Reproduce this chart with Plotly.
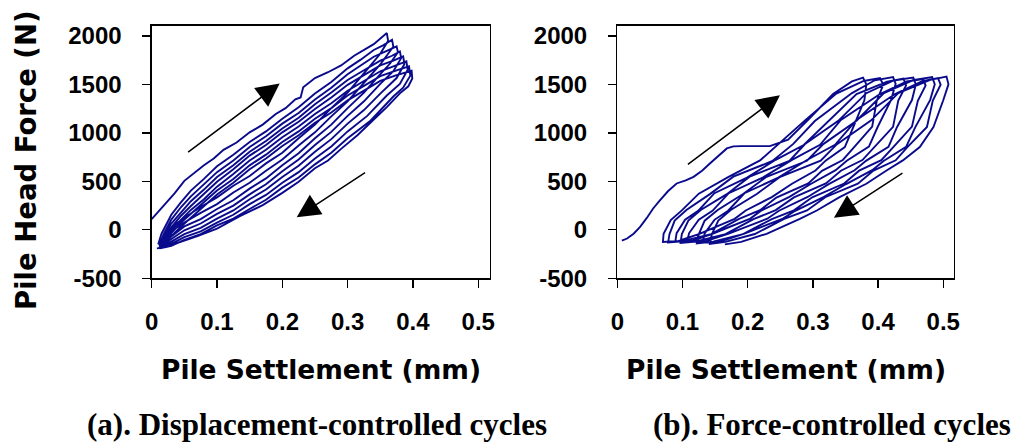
import plotly.graph_objects as go

# ---------------- data ----------------
# (a) Displacement-controlled cycles: loading (upper) and unloading (lower) branches
disp_loading = [
    [(0.000,110),(0.010,185),(0.020,255),(0.035,375),(0.050,505),(0.065,585),(0.080,665),(0.095,735),(0.110,825),(0.130,900),(0.150,1005),(0.170,1085),(0.190,1195),(0.205,1255),(0.220,1345),(0.228,1365),(0.232,1470),(0.250,1565),(0.270,1625),(0.290,1695),(0.310,1795),(0.340,1915),(0.355,1995),(0.360,2029)],
    [(0.010,-150),(0.015,-40),(0.030,155),(0.045,285),(0.060,405),(0.080,525),(0.100,655),(0.125,775),(0.150,905),(0.175,1015),(0.200,1145),(0.225,1265),(0.250,1405),(0.275,1525),(0.300,1665),(0.320,1755),(0.340,1855),(0.355,1905),(0.368,1960)],
    [(0.012,-165),(0.018,-50),(0.030,105),(0.045,235),(0.060,345),(0.080,465),(0.100,595),(0.125,715),(0.150,855),(0.175,965),(0.200,1095),(0.225,1205),(0.250,1345),(0.275,1465),(0.300,1605),(0.320,1695),(0.340,1785),(0.360,1845),(0.375,1892)],
    [(0.012,-175),(0.018,-70),(0.030,65),(0.045,185),(0.060,295),(0.080,415),(0.100,545),(0.125,665),(0.150,805),(0.175,915),(0.200,1045),(0.225,1155),(0.250,1295),(0.275,1415),(0.300,1545),(0.325,1645),(0.350,1745),(0.368,1795),(0.380,1840)],
    [(0.015,-180),(0.020,-80),(0.030,25),(0.045,145),(0.060,245),(0.080,365),(0.100,495),(0.125,625),(0.150,765),(0.175,875),(0.200,1005),(0.225,1115),(0.250,1245),(0.275,1365),(0.300,1495),(0.325,1595),(0.350,1695),(0.370,1745),(0.385,1789)],
    [(0.012,-185),(0.020,-100),(0.030,-5),(0.045,105),(0.060,205),(0.080,315),(0.100,445),(0.125,575),(0.150,715),(0.175,825),(0.200,955),(0.225,1065),(0.250,1195),(0.275,1305),(0.300,1435),(0.325,1535),(0.350,1635),(0.370,1685),(0.390,1737)],
    [(0.015,-190),(0.022,-120),(0.030,-35),(0.045,75),(0.060,165),(0.080,275),(0.100,405),(0.125,525),(0.150,665),(0.175,775),(0.200,905),(0.225,1015),(0.250,1145),(0.275,1255),(0.300,1385),(0.325,1485),(0.350,1585),(0.375,1645),(0.394,1686)],
    [(0.012,-192),(0.020,-140),(0.030,-65),(0.045,35),(0.060,125),(0.080,235),(0.100,365),(0.125,485),(0.150,625),(0.175,735),(0.200,865),(0.225,975),(0.250,1105),(0.275,1210),(0.300,1335),(0.325,1435),(0.350,1535),(0.375,1595),(0.398,1640)],
]
disp_unloading = [
    [(0.362,1950),(0.350,1815),(0.330,1655),(0.300,1415),(0.275,1255),(0.250,1085),(0.225,945),(0.200,795),(0.175,685),(0.150,555),(0.125,455),(0.100,335),(0.075,235),(0.050,125),(0.030,25),(0.020,-60),(0.010,-150)],
    [(0.370,1890),(0.350,1705),(0.325,1515),(0.300,1325),(0.275,1170),(0.250,1005),(0.225,870),(0.200,725),(0.175,610),(0.150,485),(0.125,385),(0.100,265),(0.075,175),(0.050,75),(0.030,-15),(0.020,-90),(0.012,-165)],
    [(0.377,1830),(0.365,1715),(0.350,1605),(0.325,1415),(0.300,1255),(0.275,1085),(0.250,945),(0.225,790),(0.200,665),(0.175,530),(0.150,425),(0.125,305),(0.100,215),(0.075,110),(0.050,35),(0.030,-65),(0.020,-120),(0.012,-175)],
    [(0.382,1770),(0.370,1635),(0.350,1505),(0.325,1325),(0.300,1175),(0.275,1010),(0.250,875),(0.225,725),(0.200,605),(0.175,470),(0.150,365),(0.125,250),(0.100,165),(0.075,65),(0.050,-5),(0.030,-95),(0.020,-140),(0.015,-180)],
    [(0.387,1710),(0.375,1565),(0.350,1405),(0.325,1235),(0.300,1095),(0.275,935),(0.250,805),(0.225,660),(0.200,545),(0.175,415),(0.150,315),(0.125,200),(0.100,115),(0.075,20),(0.050,-45),(0.030,-125),(0.020,-160),(0.012,-185)],
    [(0.392,1650),(0.380,1505),(0.360,1385),(0.330,1175),(0.300,1015),(0.275,860),(0.250,735),(0.225,595),(0.200,485),(0.175,360),(0.150,265),(0.125,155),(0.100,75),(0.075,-15),(0.050,-75),(0.030,-145),(0.020,-170),(0.015,-190)],
    [(0.396,1590),(0.385,1465),(0.370,1375),(0.335,1125),(0.300,945),(0.275,795),(0.250,675),(0.225,540),(0.200,435),(0.175,310),(0.150,215),(0.125,115),(0.100,45),(0.075,-45),(0.050,-105),(0.030,-165),(0.020,-180),(0.012,-192)],
    [(0.399,1560),(0.393,1480),(0.380,1407),(0.360,1265),(0.340,1137),(0.315,975),(0.290,835),(0.270,715),(0.250,635),(0.225,495),(0.200,381),(0.170,255),(0.135,140),(0.100,13),(0.070,-65),(0.040,-139),(0.020,-180),(0.008,-191)],
]

# (b) Force-controlled cycles: first (virgin) loading, then unloading/reloading loops
force_virgin = [(0.007,-112),(0.015,-90),(0.025,-40),(0.035,30),(0.045,120),(0.055,220),(0.065,300),(0.078,400),(0.091,478),(0.105,510),(0.117,546),(0.130,610),(0.142,684),(0.155,760),(0.168,839),(0.178,860),(0.190,863),(0.234,863),(0.262,930),(0.292,1130),(0.331,1400),(0.360,1530),(0.377,1570)]
force_unloading = [
    [(0.377,1570),(0.382,1500),(0.379,1336),(0.362,1060),(0.349,853),(0.320,716),(0.304,612),(0.268,475),(0.237,337),(0.197,199),(0.180,113),(0.126,-41),(0.094,-115),(0.070,-125)],
    [(0.403,1565),(0.408,1495),(0.398,1330),(0.391,1065),(0.363,850),(0.346,720),(0.314,608),(0.293,478),(0.244,333),(0.219,202),(0.186,110),(0.144,-45),(0.100,-118),(0.078,-130)],
    [(0.423,1575),(0.427,1505),(0.420,1340),(0.399,1055),(0.386,858),(0.352,712),(0.335,615),(0.296,470),(0.264,340),(0.220,195),(0.204,116),(0.147,-38),(0.116,-112),(0.089,-120)],
    [(0.439,1560),(0.443,1490),(0.431,1332),(0.423,1062),(0.394,849),(0.376,719),(0.343,609),(0.320,479),(0.271,334),(0.243,203),(0.209,110),(0.166,-44),(0.121,-120),(0.097,-135)],
    [(0.454,1570),(0.458,1500),(0.452,1338),(0.429,1058),(0.416,855),(0.382,714),(0.364,614),(0.325,473),(0.292,339),(0.248,197),(0.230,115),(0.171,-40),(0.136,-116),(0.107,-125)],
    [(0.469,1555),(0.473,1488),(0.461,1330),(0.452,1064),(0.423,851),(0.405,718),(0.371,610),(0.348,477),(0.299,335),(0.271,201),(0.237,111),(0.193,-45),(0.147,-122),(0.122,-140)],
    [(0.483,1575),(0.487,1502),(0.480,1340),(0.457,1057),(0.443,856),(0.409,713),(0.391,615),(0.351,472),(0.317,340),(0.273,196),(0.254,116),(0.195,-40),(0.159,-118),(0.131,-130)],
    [(0.492,1565),(0.496,1497),(0.484,1334),(0.475,1061),(0.445,852),(0.427,717),(0.393,611),(0.369,476),(0.319,336),(0.291,200),(0.256,112),(0.211,-43),(0.166,-125),(0.142,-145)],
    [(0.505,1580),(0.508,1500),(0.500,1336),(0.485,1060),(0.464,853),(0.438,716),(0.413,612),(0.382,475),(0.341,337),(0.306,199),(0.280,113),(0.229,-41),(0.190,-125),(0.165,-150)],
]
force_loading = [
    [(0.070,-125),(0.071,-40),(0.082,100),(0.099,200),(0.125,373),(0.170,543),(0.219,716),(0.246,880),(0.288,1129),(0.336,1405),(0.378,1535),(0.403,1565)],
    [(0.078,-130),(0.080,-45),(0.088,95),(0.106,205),(0.142,368),(0.178,548),(0.238,710),(0.270,886),(0.303,1122),(0.360,1410),(0.395,1542),(0.423,1575)],
    [(0.089,-120),(0.091,-35),(0.104,105),(0.124,195),(0.149,378),(0.199,538),(0.243,722),(0.286,875),(0.326,1135),(0.367,1400),(0.414,1528),(0.439,1560)],
    [(0.097,-135),(0.099,-44),(0.109,96),(0.128,205),(0.168,368),(0.203,548),(0.264,711),(0.288,885),(0.339,1124),(0.382,1409),(0.424,1540),(0.454,1570)],
    [(0.107,-125),(0.110,-36),(0.125,104),(0.146,196),(0.171,378),(0.223,538),(0.268,721),(0.311,876),(0.343,1134),(0.403,1400),(0.444,1530),(0.469,1555)],
    [(0.122,-140),(0.125,-46),(0.134,94),(0.154,204),(0.193,369),(0.229,547),(0.291,712),(0.316,884),(0.367,1125),(0.409,1410),(0.453,1542),(0.483,1575)],
    [(0.131,-130),(0.134,-37),(0.149,103),(0.170,197),(0.195,377),(0.247,539),(0.291,720),(0.334,877),(0.367,1133),(0.426,1401),(0.468,1534),(0.492,1565)],
    [(0.142,-145),(0.145,-45),(0.155,96),(0.174,205),(0.214,370),(0.250,547),(0.312,713),(0.337,883),(0.389,1126),(0.431,1409),(0.480,1546),(0.505,1580)],
]

# direction arrows: (tail, head) in data units
arrows_a = [((0.0535, 789), (0.196, 1510)), ((0.329, 599), (0.222, 129))]
arrows_b = [((0.106, 664), (0.2495, 1387)), ((0.4397, 595), (0.3323, 124))]

x_ticks = [0, 0.1, 0.2, 0.3, 0.4, 0.5]
x_ticktext = ["0", "0.1", "0.2", "0.3", "0.4", "0.5"]
y_ticks = [-500, 0, 500, 1000, 1500, 2000]
y_ticktext = ["-500", "0", "500", "1000", "1500", "2000"]

y_title = "Pile Head Force (N)"
x_title = "Pile Settlement (mm)"
caption_a = "(a). Displacement-controlled cycles"
caption_b = "(b). Force-controlled cycles"

# ---------------- build traces ----------------
def flatten(branches):
    xs, ys = [], []
    for br in branches:
        for p in br:
            xs.append(p[0]); ys.append(p[1])
    return xs, ys

seq_a = []
for up, down in zip(disp_loading, disp_unloading):
    seq_a += [up, down]
seq_b = [force_virgin]
for i, down in enumerate(force_unloading):
    seq_b.append(down)
    if i < len(force_loading):
        seq_b.append(force_loading[i])

xa, ya = flatten(seq_a)
xb, yb = flatten(seq_b)

line_style = dict(color="#0A0A8C", width=1.9)
fig = go.Figure()
fig.add_trace(go.Scatter(x=xa, y=ya, mode="lines", line=line_style, xaxis="x", yaxis="y", showlegend=False, hoverinfo="skip"))
fig.add_trace(go.Scatter(x=xb, y=yb, mode="lines", line=line_style, xaxis="x2", yaxis="y2", showlegend=False, hoverinfo="skip"))

W, H = 1014, 443
tickfont = dict(family="Liberation Sans, Arial, sans-serif", size=24, color="black", weight="bold")
def xax(domain, rng, anchor):
    return dict(domain=domain, range=rng, anchor=anchor, tickvals=x_ticks, ticktext=x_ticktext,
                ticks="outside", ticklen=8, tickwidth=1.3, tickcolor="black",
                showline=True, linecolor="black", linewidth=1.3, mirror=True, automargin=False,
                showgrid=False, zeroline=False, tickfont=tickfont, ticklabelstandoff=14)
def yax(domain, anchor):
    return dict(domain=domain, range=[-500, 2105], anchor=anchor, tickvals=y_ticks, ticktext=y_ticktext,
                ticks="outside", ticklen=8, tickwidth=1.3, tickcolor="black",
                showline=True, linecolor="black", linewidth=1.3, mirror=True, automargin=False,
                showgrid=False, zeroline=False, tickfont=tickfont, ticklabelstandoff=16)

ydom = [1 - 278.3 / H, 1 - 25.7 / H]
fig.update_layout(
    template="none",
    width=W, height=H, margin=dict(l=0, r=0, t=0, b=0, pad=0), autosize=False,
    paper_bgcolor="white", plot_bgcolor="white",
    xaxis=xax([151.7 / W, 490 / W], [0, 0.518], "y"),
    yaxis=yax(ydom, "x"),
    xaxis2=xax([617.3 / W, 954 / W], [0, 0.5165], "y2"),
    yaxis2=yax(ydom, "x2"),
)

annots = []
arrow_style = dict(showarrow=True, arrowhead=2, arrowsize=3.1, arrowwidth=1.5, arrowcolor="black", text="", standoff=0)
for (tail, head) in arrows_a:
    annots.append(dict(x=head[0], y=head[1], ax=tail[0], ay=tail[1], xref="x", yref="y", axref="x", ayref="y", **arrow_style))
for (tail, head) in arrows_b:
    annots.append(dict(x=head[0], y=head[1], ax=tail[0], ay=tail[1], xref="x2", yref="y2", axref="x2", ayref="y2", **arrow_style))

ytitle_font = dict(family="DejaVu Sans, Arial, sans-serif", size=27.5, color="black", weight="bold")
xtitle_font = dict(family="DejaVu Sans, Arial, sans-serif", size=26.5, color="black", weight="bold")
cap_font = dict(family="Liberation Serif, Times New Roman, serif", size=31, color="black", weight="bold")
annots.append(dict(text=y_title, x=26 / W, y=1 - 160 / H, xref="paper", yref="paper", showarrow=False,
                   textangle=-90, font=ytitle_font, xanchor="center", yanchor="middle"))
annots.append(dict(text=x_title, x=321 / W, y=1 - 369 / H, xref="paper", yref="paper", showarrow=False,
                   font=xtitle_font, xanchor="center", yanchor="middle"))
annots.append(dict(text=x_title, x=785.5 / W, y=1 - 369 / H, xref="paper", yref="paper", showarrow=False,
                   font=xtitle_font, xanchor="center", yanchor="middle"))
annots.append(dict(text=caption_a, x=317 / W, y=1 - 424 / H, xref="paper", yref="paper", showarrow=False,
                   font=cap_font, xanchor="center", yanchor="middle"))
annots.append(dict(text=caption_b, x=831.5 / W, y=1 - 424 / H, xref="paper", yref="paper", showarrow=False,
                   font=cap_font, xanchor="center", yanchor="middle"))
fig.update_layout(annotations=annots)

fig.write_html("out.html", config={"displayModeBar": False, "staticPlot": True},
               post_script="document.body.style.margin='0';document.body.style.overflow='hidden';")
